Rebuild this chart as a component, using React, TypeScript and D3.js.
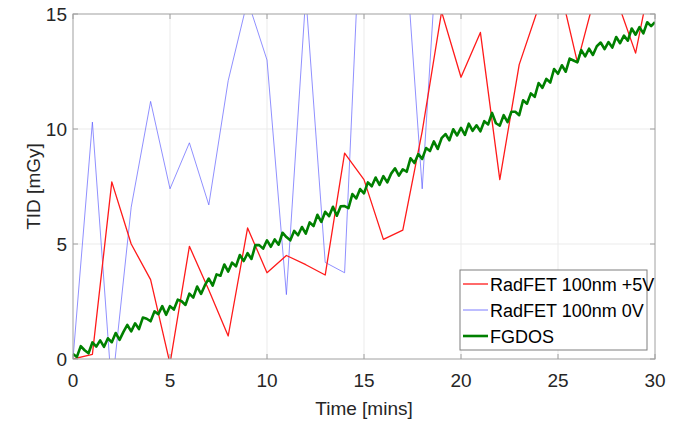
import React from "react";
import * as d3 from "d3";

// RadFET / FGDOS dose readings
const minutes = d3.range(0, 31);
const radfet5V = [
  0, 0.2, 7.7, 5.0, 3.45, -0.2, 4.9, 3.0, 1.0, 5.7,
  3.75, 4.5, 4.1, 3.65, 8.95, 7.8, 5.2, 5.6, 9.9, 15.1,
  12.25, 14.2, 7.8, 12.8, 15.3, 16.5, 12.9, 16.1, 15.7, 13.3,
  17.5,
];
const radfet0V = [
  0, 10.3, -1.35, 6.6, 11.2, 7.4, 9.4, 6.7, 12.1, 15.6,
  13.0, 2.8, 15.8, 4.2, 3.75, 22.5, 21, 19.5, 7.4, 21,
  24, 22, 26, 23, 27, 25, 28, 26, 30, 27,
  31,
];
// FGDOS sampled every 0.2 min
const fgdos = [
  0.22, 0.09, 0.56, 0.38, 0.25, 0.72, 0.54, 0.81, 0.53, 0.9,
  0.73, 1.13, 0.83, 1.18, 1.48, 1.2, 1.55, 1.3, 1.8, 1.75,
  1.64, 2.07, 1.95, 2.3, 1.92, 2.3, 2.15, 2.58, 2.51, 2.35,
  2.84, 2.67, 3.15, 2.83, 3.21, 3.5, 3.19, 3.68, 3.62, 4.11,
  3.8, 4.19, 4.03, 4.52, 4.26, 4.6, 4.35, 4.95, 4.95, 4.8,
  5.16, 4.88, 5.2, 4.97, 5.49, 5.3, 5.16, 5.57, 5.38, 5.74,
  5.45, 5.94, 5.78, 6.27, 5.96, 6.4, 6.21, 6.62, 6.23, 6.64,
  6.65, 6.56, 7.17, 6.98, 7.39, 7.2, 7.68, 7.51, 7.89, 7.57,
  7.95, 7.68, 8.06, 8.29, 7.97, 8.25, 8.14, 8.73, 8.52, 8.91,
  8.7, 9.17, 9.04, 9.46, 9.13, 9.6, 9.78, 9.51, 9.99, 9.72,
  10.05, 9.74, 10.23, 9.92, 10.16, 9.9, 10.34, 10.2, 10.7, 10.25,
  10.15, 10.6, 10.3, 10.75, 10.75, 10.6, 11.25, 11.1, 11.55, 11.4,
  12.0, 11.79, 12.18, 12.02, 12.61, 12.4, 12.77, 12.49, 13.06, 12.98,
  12.9, 13.43, 13.16, 13.49, 13.22, 13.6, 13.76, 13.47, 13.78, 13.54,
  14.0, 13.73, 14.06, 13.84, 14.37, 14.1, 14.43, 14.16, 14.64, 14.47,
  14.65,
];
const xTicks = [0, 5, 10, 15, 20, 25, 30];
const yTicks = [0, 5, 10, 15];
const legendLabels = ["RadFET 100nm +5V", "RadFET 100nm 0V", "FGDOS"];
const colors = ["#ff1a1a", "#5a5aff", "#008000"];

const W = 682, H = 422;
const left = 73, right = 655, top = 14, bottom = 359;
const font = "'Liberation Sans', Arial, sans-serif";

export default function App() {
  const x = d3.scaleLinear().domain([0, 30]).range([left, right]);
  const y = d3.scaleLinear().domain([0, 15]).range([bottom, top]);

  const line = d3.line<[number, number]>()
    .x(d => x(d[0]))
    .y(d => y(d[1]));

  const redPts = minutes.map((t, i) => [t, radfet5V[i]] as [number, number]);
  const bluePts = minutes.map((t, i) => [t, radfet0V[i]] as [number, number]);
  const greenPts = fgdos.map((v, i) => [i * 0.2, v] as [number, number]);

  const tickLen = 5;

  return (
    <svg width={W} height={H} style={{ position: "absolute", left: 0, top: 0, background: "#fff" }}
      fontFamily={font}>
      <defs>
        <clipPath id="plotclip">
          <rect x={left} y={top} width={right - left} height={bottom - top} />
        </clipPath>
      </defs>
      <rect x={0} y={0} width={W} height={H} fill="#fff" />

      {/* grid */}
      <g stroke="#ebebeb" strokeWidth={1}>
        {xTicks.slice(1, -1).map(t => (
          <line key={"gx" + t} x1={x(t)} x2={x(t)} y1={top} y2={bottom} />
        ))}
        {yTicks.slice(1, -1).map(t => (
          <line key={"gy" + t} x1={left} x2={right} y1={y(t)} y2={y(t)} />
        ))}
      </g>

      {/* series */}
      <g clipPath="url(#plotclip)" fill="none" strokeLinejoin="round">
        <path d={line(bluePts) || ""} stroke={colors[1]} strokeWidth={0.8} strokeOpacity={0.85} />
        <path d={line(redPts) || ""} stroke={colors[0]} strokeWidth={1.3} />
        <path d={line(greenPts) || ""} stroke={colors[2]} strokeWidth={2.6} />
      </g>

      {/* box + ticks */}
      <g stroke="#a0a0a0" strokeWidth={1}>
        <rect x={left} y={top} width={right - left} height={bottom - top} fill="none" />
        {xTicks.map(t => (
          <g key={"tx" + t}>
            <line x1={x(t)} x2={x(t)} y1={bottom} y2={bottom - tickLen} />
            <line x1={x(t)} x2={x(t)} y1={top} y2={top + tickLen} />
          </g>
        ))}
        {yTicks.map(t => (
          <g key={"ty" + t}>
            <line x1={left} x2={left + tickLen} y1={y(t)} y2={y(t)} />
            <line x1={right} x2={right - tickLen} y1={y(t)} y2={y(t)} />
          </g>
        ))}
      </g>

      {/* tick labels */}
      <g fill="#262626" fontSize={19}>
        {xTicks.map(t => (
          <text key={"lx" + t} x={x(t)} y={387} textAnchor="middle">{t}</text>
        ))}
        {yTicks.map(t => (
          <text key={"ly" + t} x={67} y={y(t) + 7} textAnchor="end">{t}</text>
        ))}
      </g>

      {/* axis titles */}
      <text x={(left + right) / 2} y={415} textAnchor="middle" fontSize={19} fill="#262626">Time [mins]</text>
      <text transform={`translate(40,${(top + bottom) / 2}) rotate(-90)`} textAnchor="middle"
        fontSize={19} fill="#262626">TID [mGy]</text>

      {/* legend */}
      <g>
        <rect x={460} y={270} width={187} height={80} fill="#fff" stroke="#7f7f7f" strokeWidth={1} />
        {legendLabels.map((lab, i) => {
          const ly = 284 + i * 26;
          return (
            <g key={lab}>
              <line x1={463} x2={488} y1={ly} y2={ly} stroke={colors[i]}
                strokeWidth={i === 2 ? 2.6 : i === 0 ? 1.3 : 0.8} />
              <text x={490} y={ly + 6.5} fontSize={18} fill="#000">{lab}</text>
            </g>
          );
        })}
      </g>
    </svg>
  );
}
